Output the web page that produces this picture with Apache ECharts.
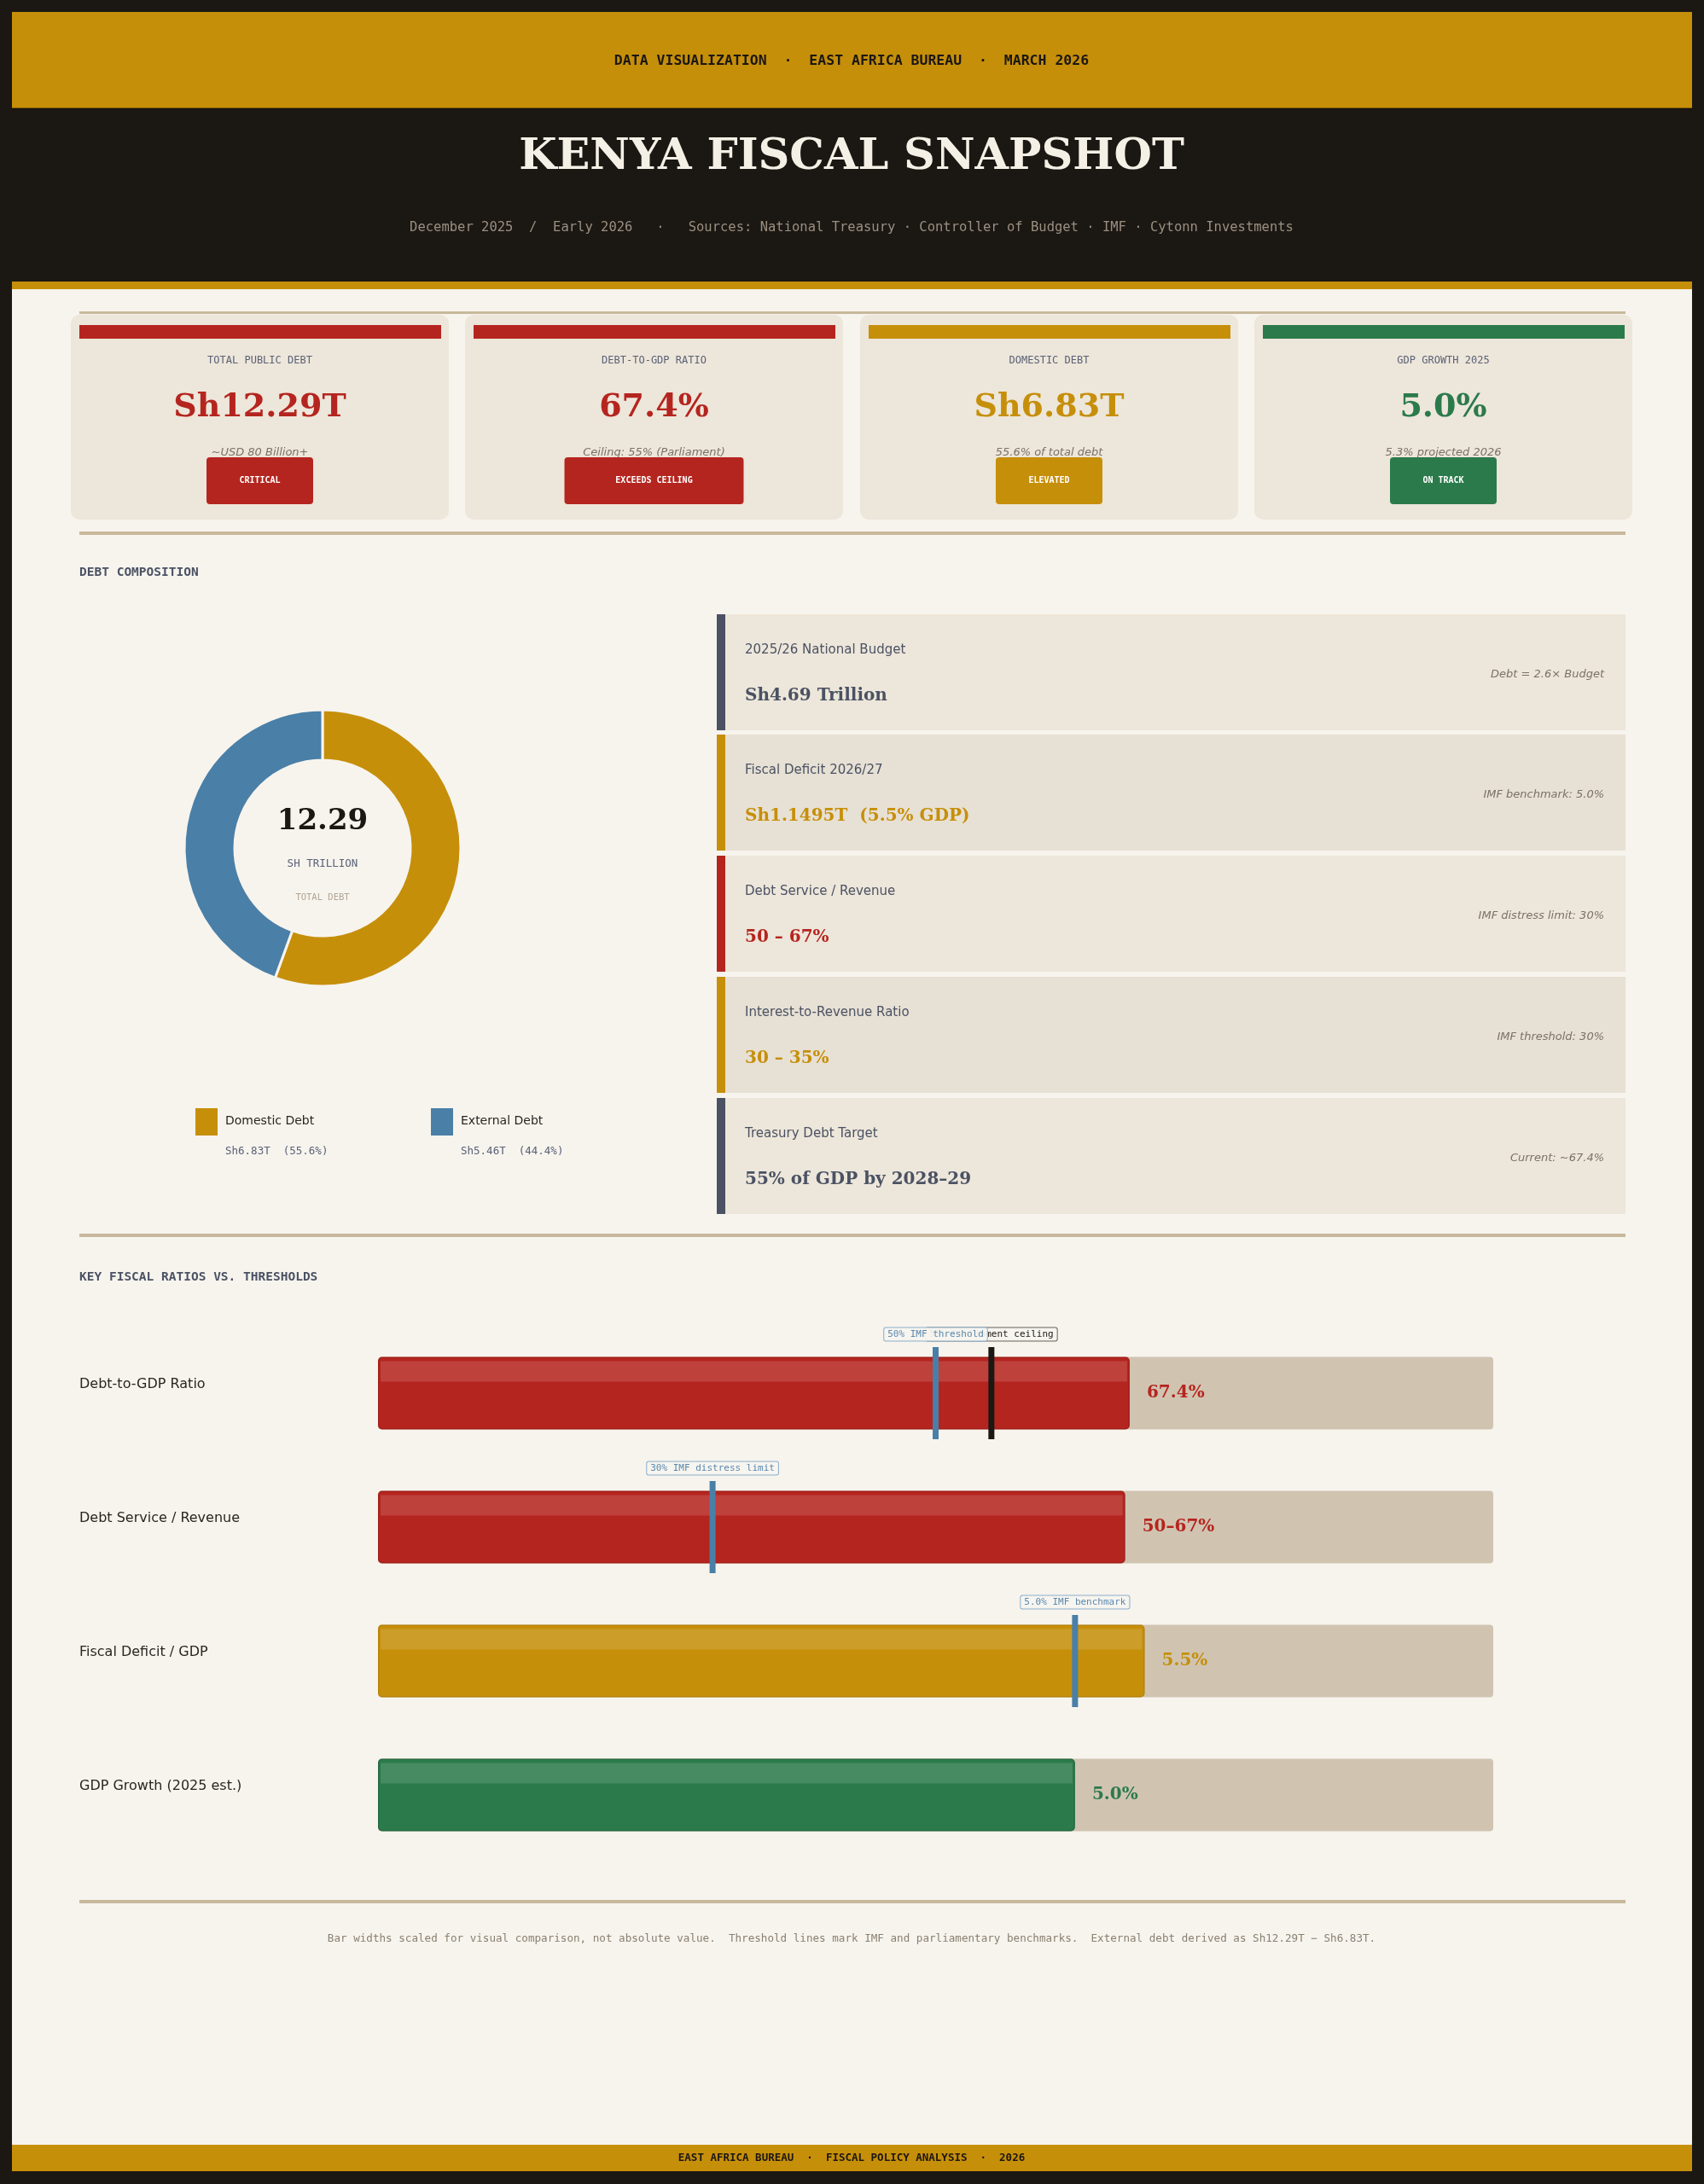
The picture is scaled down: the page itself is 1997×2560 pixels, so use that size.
<!DOCTYPE html>
<html>
<head>
<meta charset="utf-8">
<title>Kenya Fiscal Snapshot</title>
<script src="https://cdn.jsdelivr.net/npm/echarts@6/dist/echarts.min.js"></script>
<style>
html,body{margin:0;padding:0;background:#1b1713;}
#chart{width:1997px;height:2560px;}
</style>
</head>
<body>
<div id="chart"></div>
<script>
// ---- data ----
var cardLabels = ['TOTAL PUBLIC DEBT', 'DEBT-TO-GDP RATIO', 'DOMESTIC DEBT', 'GDP GROWTH 2025'];
var cardValues = ['Sh12.29T', '67.4%', 'Sh6.83T', '5.0%'];
var cardNotes = ['~USD 80 Billion+', 'Ceiling: 55% (Parliament)', '55.6% of total debt', '5.3% projected 2026'];
var cardBadges = ['CRITICAL', 'EXCEEDS CEILING', 'ELEVATED', 'ON TRACK'];
var cardTones = ['red', 'red', 'gold', 'green'];

var debtNames = ['Domestic Debt', 'External Debt'];
var debtValues = [6.83, 5.46];
var debtShares = ['55.6%', '44.4%'];
var debtTones = ['gold', 'blue'];
var debtTotal = '12.29';

var factTitles = ['2025/26 National Budget', 'Fiscal Deficit 2026/27', 'Debt Service / Revenue', 'Interest-to-Revenue Ratio', 'Treasury Debt Target'];
var factValues = ['Sh4.69 Trillion', 'Sh1.1495T  (5.5% GDP)', '50 – 67%', '30 – 35%', '55% of GDP by 2028–29'];
var factNotes = ['Debt = 2.6× Budget', 'IMF benchmark: 5.0%', 'IMF distress limit: 30%', 'IMF threshold: 30%', 'Current: ~67.4%'];
var factTones = ['slate', 'gold', 'red', 'gold', 'slate'];

var ratioNames = ['Debt-to-GDP Ratio', 'Debt Service / Revenue', 'Fiscal Deficit / GDP', 'GDP Growth (2025 est.)'];
var ratioValues = [67.4, 67, 5.5, 5.0];
var ratioScale = [1, 1, 12.5, 12.5];   // %-of-GDP rows stretched so 8% fills the track
var ratioLabels = ['67.4%', '50–67%', '5.5%', '5.0%'];
var ratioTones = ['red', 'red', 'gold', 'green'];

var limitRows = [0, 0, 1, 2];
var limitValues = [55, 50, 30, 5.0];
var limitLabels = ['55% Parliament ceiling', '50% IMF threshold', '30% IMF distress limit', '5.0% IMF benchmark'];
var limitTones = ['ink', 'blue', 'blue', 'blue'];

// ---- look ----
var C = {
    red: '#b5251f', gold: '#c68f0a', green: '#2b7a4b', blue: '#4a7fa7',
    slate: '#4a5263', ink: '#1b1713', cream: '#f7f4ee', card: '#ede6da',
    rule: '#c8b89c', track: '#d0c4b1', muted: '#7a7168', label: '#5a6276'
};
var edge = { red: '#a31e19', gold: '#b88209', green: '#256b41' };
var SERIF = '"DejaVu Serif", serif';
var SANS = '"DejaVu Sans", sans-serif';
var MONO = '"DejaVu Sans Mono", monospace';

function rect(x, y, w, h, fill, r) {
    return { type: 'rect', silent: true, shape: { x: x, y: y, width: w, height: h, r: r || 0 }, style: { fill: fill } };
}
function text(x, y, s, font, fill, align) {
    return { type: 'text', silent: true, x: x, y: y, style: { text: s, font: font, fill: fill, align: align || 'left', verticalAlign: 'middle' } };
}

var g = [];
// frame + bands
g.push(rect(14, 14, 1969, 113, C.gold));
g.push(rect(14, 126, 1969, 2, 'rgba(0,0,0,0.35)'));
g.push(rect(14, 330, 1969, 9, C.gold));
g.push(rect(14, 339, 1969, 2176, C.cream));
g.push(rect(14, 2514, 1969, 31, C.gold));
g.push(text(998, 72, 'DATA VISUALIZATION  ·  EAST AFRICA BUREAU  ·  MARCH 2026', 'bold 16.5px ' + MONO, C.ink, 'center'));
g.push(text(998, 185, 'KENYA FISCAL SNAPSHOT', 'bold 51px ' + SERIF, '#f5f0e6', 'center'));
g.push(text(998, 267, 'December 2025  /  Early 2026   ·   Sources: National Treasury · Controller of Budget · IMF · Cytonn Investments', '15.5px ' + MONO, '#9a8f80', 'center'));
g.push(text(998, 2530, 'EAST AFRICA BUREAU  ·  FISCAL POLICY ANALYSIS  ·  2026', 'bold 12.5px ' + MONO, C.ink, 'center'));

// rules
g.push(rect(93, 365, 1812, 3, C.rule));
g.push(rect(93, 623, 1812, 4, C.rule));
g.push(rect(93, 1446, 1812, 4, C.rule));
g.push(rect(93, 2227, 1812, 4, C.rule));

// KPI cards
var cardX = [83, 545, 1008, 1470];
var badgeW = [125, 210, 125, 125];
for (var i = 0; i < cardX.length; i++) {
    var cx = cardX[i] + 221.5, tone = C[cardTones[i]];
    g.push(rect(cardX[i], 369, 443, 240, C.card, 10));
    g.push(rect(cardX[i] + 10, 381, 424, 16, tone));
    g.push(text(cx, 423, cardLabels[i], '12px ' + MONO, C.label, 'center'));
    g.push(text(cx, 478, cardValues[i], 'bold 38px ' + SERIF, tone, 'center'));
    g.push(text(cx, 531, cardNotes[i], 'italic 13px ' + SANS, C.muted, 'center'));
    g.push(rect(cx - badgeW[i] / 2, 536, badgeW[i], 55, tone, 4));
    g.push(text(cx, 563, cardBadges[i], 'bold 10px ' + MONO, '#ffffff', 'center'));
}

// section titles
g.push(text(93, 671, 'DEBT COMPOSITION', 'bold 14.5px ' + MONO, C.slate));
g.push(text(93, 1497, 'KEY FISCAL RATIOS VS. THRESHOLDS', 'bold 14.5px ' + MONO, C.slate));

// donut centre + legend
g.push(text(378, 963, debtTotal, 'bold 34px ' + SERIF, C.ink, 'center'));
g.push(text(378, 1013, 'SH TRILLION', '12.5px ' + MONO, C.label, 'center'));
g.push(text(378, 1052, 'TOTAL DEBT', '10.5px ' + MONO, '#b0a595', 'center'));
var legX = [229, 505];
for (var i = 0; i < debtNames.length; i++) {
    g.push(rect(legX[i], 1299, 26, 32, C[debtTones[i]]));
    g.push(text(legX[i] + 35, 1314, debtNames[i], '14px ' + SANS, '#2a2520'));
    g.push(text(legX[i] + 35, 1350, 'Sh' + debtValues[i].toFixed(2) + 'T  (' + debtShares[i] + ')', '12.5px ' + MONO, C.label));
}

// fact rows
var rowTop = [720, 861, 1003, 1145, 1287];
for (var i = 0; i < rowTop.length; i++) {
    var y0 = rowTop[i];
    g.push(rect(840, y0, 1065, 136, i % 2 ? '#e7e0d4' : C.card));
    g.push(rect(840, y0, 10, 136, C[factTones[i]]));
    g.push(text(873, y0 + 42, factTitles[i], '15px ' + SANS, C.slate));
    g.push(text(873, y0 + 96, factValues[i], 'bold 20px ' + SERIF, C[factTones[i]]));
    g.push(text(1880, y0 + 71, factNotes[i], 'italic 13px ' + SANS, C.muted, 'right'));
}

g.push(text(998, 2273, 'Bar widths scaled for visual comparison, not absolute value.  Threshold lines mark IMF and parliamentary benchmarks.  External debt derived as Sh12.29T − Sh6.83T.', '12.6px ' + MONO, '#8a8070', 'center'));

var BAR = 85;
var chart = echarts.init(document.getElementById('chart'), null, { renderer: 'canvas' });
chart.setOption({
    animation: false,
    backgroundColor: C.ink,
    graphic: { elements: g },
    grid: { left: 443, width: 1307, top: 1554.5, height: 628 },
    xAxis: { type: 'value', min: 0, max: 100, show: false },
    yAxis: {
        type: 'category', data: ratioNames, inverse: true,
        axisLine: { show: false }, axisTick: { show: false },
        axisLabel: {
            align: 'left', margin: 350, fontSize: 16, fontFamily: SANS, color: '#2a2520',
            verticalAlign: 'bottom', lineHeight: 20
        }
    },
    series: [
        {
            type: 'pie', silent: true, center: [378, 994], radius: [103, 162],
            startAngle: 90, clockwise: true,
            label: { show: false }, labelLine: { show: false },
            itemStyle: { borderColor: C.cream, borderWidth: 3 },
            data: debtNames.map(function (n, i) {
                return { name: n, value: debtValues[i], itemStyle: { color: C[debtTones[i]] } };
            })
        },
        {
            type: 'bar', silent: true, barWidth: BAR,
            showBackground: true,
            backgroundStyle: { color: C.track, borderRadius: 4 },
            itemStyle: { borderRadius: 4, borderWidth: 1.5 },
            label: {
                show: true, position: 'right', distance: 20,
                fontFamily: SERIF, fontWeight: 'bold', fontSize: 20,
                formatter: function (p) { return ratioLabels[p.dataIndex]; }
            },
            data: ratioValues.map(function (v, i) {
                var t = ratioTones[i];
                return { value: v * ratioScale[i], itemStyle: { color: C[t], borderColor: edge[t] }, label: { color: C[t] } };
            })
        },
        {
            // glossy strip near the top of each bar
            type: 'custom', silent: true, z: 3,
            data: ratioValues.map(function (v, i) { return [v * ratioScale[i], i]; }),
            encode: { x: 0, y: 1 },
            renderItem: function (params, api) {
                var row = api.value(1);
                var a = api.coord([0, row]);
                var b = api.coord([api.value(0), row]);
                return {
                    type: 'rect',
                    shape: { x: a[0] + 3, y: a[1] - BAR / 2 + 5, width: b[0] - a[0] - 6, height: 24 },
                    style: { fill: 'rgba(255,255,255,0.13)' }
                };
            }
        },
        {
            // threshold markers
            type: 'custom', silent: true, z: 4,
            data: limitValues.map(function (v, i) { return [v * ratioScale[limitRows[i]], limitRows[i], i]; }),
            encode: { x: 0, y: 1 },
            renderItem: function (params, api) {
                var k = api.value(2);
                var p = api.coord([api.value(0), api.value(1)]);
                var ink = limitTones[k] === 'ink';
                var c = ink ? C.ink : C.blue;
                return {
                    type: 'group',
                    children: [
                        { type: 'rect', z2: 1, shape: { x: p[0] - 3.5, y: p[1] - 54, width: 7, height: 108 }, style: { fill: c } },
                        {
                            type: 'text', z2: 10 + k, x: p[0], y: p[1] - 69,
                            style: {
                                text: limitLabels[k], font: '11px ' + MONO,
                                fill: ink ? C.ink : '#5a88b0', align: 'center', verticalAlign: 'middle',
                                backgroundColor: 'rgba(247,244,238,0.95)',
                                borderColor: ink ? '#6a6560' : '#8fb0cc', borderWidth: 1, borderRadius: 2,
                                padding: [2, 4]
                            }
                        }
                    ]
                };
            }
        }
    ]
});
</script>
</body>
</html>
